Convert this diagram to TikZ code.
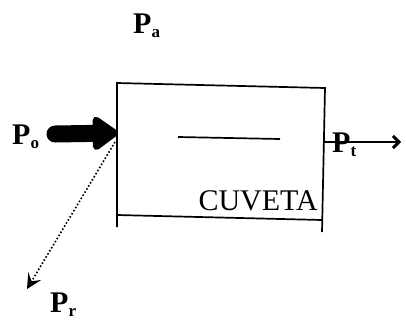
\documentclass[tikz,border=0pt]{standalone}
\usepackage{fontspec}
\setmainfont{Liberation Serif}
\usetikzlibrary{arrows.meta}
\tikzset{
  lbl/.style={inner sep=0pt, font=\fontsize{30}{30}\selectfont},
  plbl/.style={inner sep=0pt, font=\fontsize{30}{30}\selectfont\bfseries},
  boxline/.style={line width=1.7pt}
}
\newcommand{\mysub}[1]{\raisebox{-0.3ex}{\fontsize{17}{17}\selectfont #1}}
\begin{document}
\begin{tikzpicture}[x=1pt,y=-1pt]
\useasboundingbox (0,0) rectangle (406,322);
% box corners
\coordinate (tl) at (117,83);
\coordinate (tr) at (325,88);
\coordinate (bl) at (117,215);
\coordinate (br) at (322,220);
\coordinate (blx) at (117,227);
\coordinate (brx) at (322,232);
\draw[boxline] (blx) -- (tl) -- (tr) -- (brx);
\draw[boxline] (bl) -- (br);
% inner line
\coordinate (m1) at (178,137);
\coordinate (m2) at (280,139);
\draw[line width=1.7pt] (m1) -- (m2);
\node[lbl, anchor=base east] (cuv) at (318,210) {CUVETA};
% labels
\node[plbl, anchor=base west] (p0) at (12,144) {P\mysub{o}};
\node[plbl, anchor=base west] (pa) at (133,33) {P\mysub{a}};
\node[plbl, anchor=base west] (pt) at (332,152) {P\mysub{t}};
\node[plbl, anchor=base west] (pr) at (50,312) {P\mysub{r}};
% incident thick arrow
\coordinate (a0) at (55,134);
\coordinate (ain) at (118,133);
\draw[line width=17pt, line cap=round, -{Triangle[length=28pt,width=38pt,round]}] (a0) -- (ain);
% reflected dotted arrow
\coordinate (rin) at (115,142);
\coordinate (rend) at (27,289);
\draw[line width=1.6pt, dotted, -{Stealth[length=15pt,width=15pt,inset=6pt]}] (rin) -- (rend);
% transmitted arrow
\coordinate (tin) at (324,142);
\coordinate (tend) at (401,142);
\draw[line width=1.7pt, -{Straight Barb[length=6pt,width=12pt,line width=3pt]}] (tin) -- (tend);
\end{tikzpicture}
\end{document}
